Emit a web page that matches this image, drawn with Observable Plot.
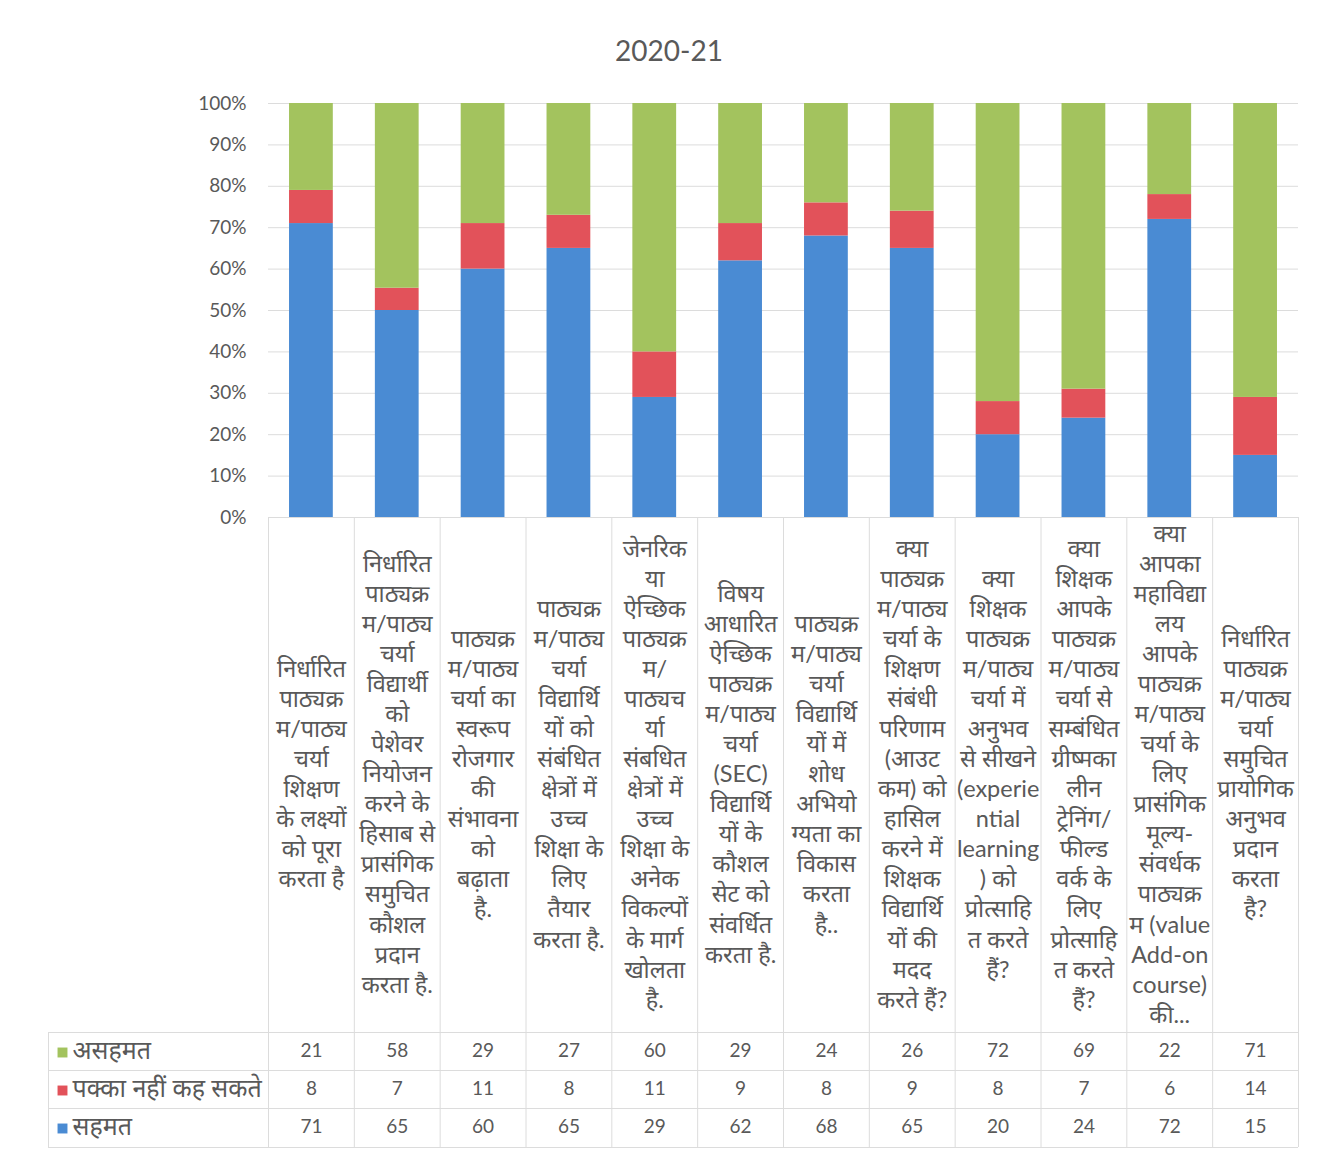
<!DOCTYPE html>
<html>
<head>
<meta charset="utf-8">
<script src="https://cdn.jsdelivr.net/npm/d3@7"></script>
<script src="https://cdn.jsdelivr.net/npm/@observablehq/plot@0.6"></script>
<style>
  html, body { margin: 0; padding: 0; background: #fff; }
  #title { height: 75px; box-sizing: border-box; padding-top: 32px; font-size: 28px; line-height: 36px;
           text-align: center; color: #595959; font-family: Lato, "Noto Sans", sans-serif; width: 1338px; }
  #chart svg { display: block; }
</style>
</head>
<body>
<div id="title">2020-21</div>
<div id="chart"></div>
<script>
const categories = [
  "निर्धारित\nपाठ्यक्र\nम/पाठ्य\nचर्या\nशिक्षण\nके लक्ष्यों\nको पूरा\nकरता है",
  "निर्धारित\nपाठ्यक्र\nम/पाठ्य\nचर्या\nविद्यार्थी\nको\nपेशेवर\nनियोजन\nकरने के\nहिसाब से\nप्रासंगिक\nसमुचित\nकौशल\nप्रदान\nकरता है.",
  "पाठ्यक्र\nम/पाठ्य\nचर्या का\nस्वरूप\nरोजगार\nकी\nसंभावना\nको\nबढ़ाता\nहै.",
  "पाठ्यक्र\nम/पाठ्य\nचर्या\nविद्यार्थि\nयों को\nसंबंधित\nक्षेत्रों में\nउच्च\nशिक्षा के\nलिए\nतैयार\nकरता है.",
  "जेनरिक\nया\nऐच्छिक\nपाठ्यक्र\nम/\nपाठ्यच\nर्या\nसंबधित\nक्षेत्रों में\nउच्च\nशिक्षा के\nअनेक\nविकल्पों\nके मार्ग\nखोलता\nहै.",
  "विषय\nआधारित\nऐच्छिक\nपाठ्यक्र\nम/पाठ्य\nचर्या\n(SEC)\nविद्यार्थि\nयों के\nकौशल\nसेट को\nसंवर्धित\nकरता है.",
  "पाठ्यक्र\nम/पाठ्य\nचर्या\nविद्यार्थि\nयों में\nशोध\nअभियो\nग्यता का\nविकास\nकरता\nहै..",
  "क्या\nपाठ्यक्र\nम/पाठ्य\nचर्या के\nशिक्षण\nसंबंधी\nपरिणाम\n(आउट\nकम) को\nहासिल\nकरने में\nशिक्षक\nविद्यार्थि\nयों की\nमदद\nकरते हैं?",
  "क्या\nशिक्षक\nपाठ्यक्र\nम/पाठ्य\nचर्या में\nअनुभव\nसे सीखने\n(experie\nntial\nlearning\n) को\nप्रोत्साहि\nत करते\nहैं?",
  "क्या\nशिक्षक\nआपके\nपाठ्यक्र\nम/पाठ्य\nचर्या से\nसम्बंधित\nग्रीष्मका\nलीन\nट्रेनिंग/\nफील्ड\nवर्क के\nलिए\nप्रोत्साहि\nत करते\nहैं?",
  "क्या\nआपका\nमहाविद्या\nलय\nआपके\nपाठ्यक्र\nम/पाठ्य\nचर्या के\nलिए\nप्रासंगिक\nमूल्य-\nसंवर्धक\nपाठ्यक्र\nम (value\nAdd-on\ncourse)\nकी...",
  "निर्धारित\nपाठ्यक्र\nम/पाठ्य\nचर्या\nसमुचित\nप्रायोगिक\nअनुभव\nप्रदान\nकरता\nहै?"
];

const seriesNames = ["सहमत", "पक्का नहीं कह सकते", "असहमत"]; // stacking order bottom -> top
const tableRows = ["असहमत", "पक्का नहीं कह सकते", "सहमत"];    // table order top -> bottom
const seriesColors = ["#4a8bd3", "#e2525a", "#a3c35e"];

const agree    = [71, 65, 60, 65, 29, 62, 68, 65, 20, 24, 72, 15];
const unsure   = [8, 7, 11, 8, 11, 9, 8, 9, 8, 7, 6, 14];
const disagree = [21, 58, 29, 27, 60, 29, 24, 26, 72, 69, 22, 71];

const yTicks = [0, 0.1, 0.2, 0.3, 0.4, 0.5, 0.6, 0.7, 0.8, 0.9, 1.0];

const valuesBySeries = {"सहमत": agree, "पक्का नहीं कह सकते": unsure, "असहमत": disagree};
const data = [];
for (const s of seriesNames) {
  valuesBySeries[s].forEach((v, i) => data.push({cat: categories[i], series: s, value: v}));
}

const W = 1338, H = 1080, mL = 268, mR = 40, mT = 28, mB = 638;
const frameH = H - mT - mB;
const step = (W - mL - mR) / categories.length;
const gridColor = "#dcdcdc";
const txt = "#595959";
const font = 'Lato, "Noto Sans Devanagari", "Nirmala UI", Mangal, "Noto Sans", sans-serif';

const rowDy = [539, 577, 615];
const lineDy = [515, 553, 591, 630];

const marks = [
  Plot.gridY(yTicks, {stroke: gridColor, strokeOpacity: 1}),
  Plot.barY(data, {x: "cat", y: "value", fill: "series", offset: "normalize", order: seriesNames}),
  Plot.axisY(yTicks, {tickFormat: d3.format(".0%"), tickSize: 0, tickPadding: 22, fontSize: 19, fill: txt, label: null}),
  Plot.axisX({tickSize: 0, tickPadding: 255, lineAnchor: "middle", fontSize: 23.5, lineHeight: 1.28, fill: txt, label: null}),
  // table vertical borders
  Plot.ruleX(categories, {x: d => d, dx: -step / 2, insetTop: frameH, insetBottom: -630, stroke: gridColor}),
  Plot.ruleX([categories[categories.length - 1]], {x: d => d, dx: step / 2, insetTop: frameH, insetBottom: -630, stroke: gridColor}),
  Plot.ruleX([categories[0]], {x: d => d, dx: -step / 2 - 220, insetTop: frameH + 515, insetBottom: -630, stroke: gridColor}),
  // table horizontal borders
  ...lineDy.map(dy => Plot.ruleY([0], {dy, insetLeft: -220, stroke: gridColor}))
];

tableRows.forEach((s, r) => {
  marks.push(Plot.text(data.filter(d => d.series === s), {x: "cat", text: "value", frameAnchor: "bottom", dy: rowDy[r], fontSize: 19, fill: txt}));
  marks.push(Plot.dot([s], {fill: d => d, symbol: "square", r: 5.6, frameAnchor: "bottom-left", dx: -206, dy: rowDy[r] - 4}));
  marks.push(Plot.text([s], {text: d => d, frameAnchor: "bottom-left", textAnchor: "start", dx: -196, dy: rowDy[r] + 2, fontSize: 25, fill: txt}));
});

const chart = Plot.plot({
  width: W, height: H,
  marginLeft: mL, marginRight: mR, marginTop: mT, marginBottom: mB,
  style: {fontFamily: font, color: txt, background: "#fff", overflow: "visible"},
  x: {domain: categories, paddingInner: 0.49, paddingOuter: 0.245, round: false, axis: null},
  y: {domain: [0, 1], axis: null},
  color: {domain: seriesNames, range: seriesColors},
  marks
});
document.getElementById("chart").append(chart);
</script>
</body>
</html>
